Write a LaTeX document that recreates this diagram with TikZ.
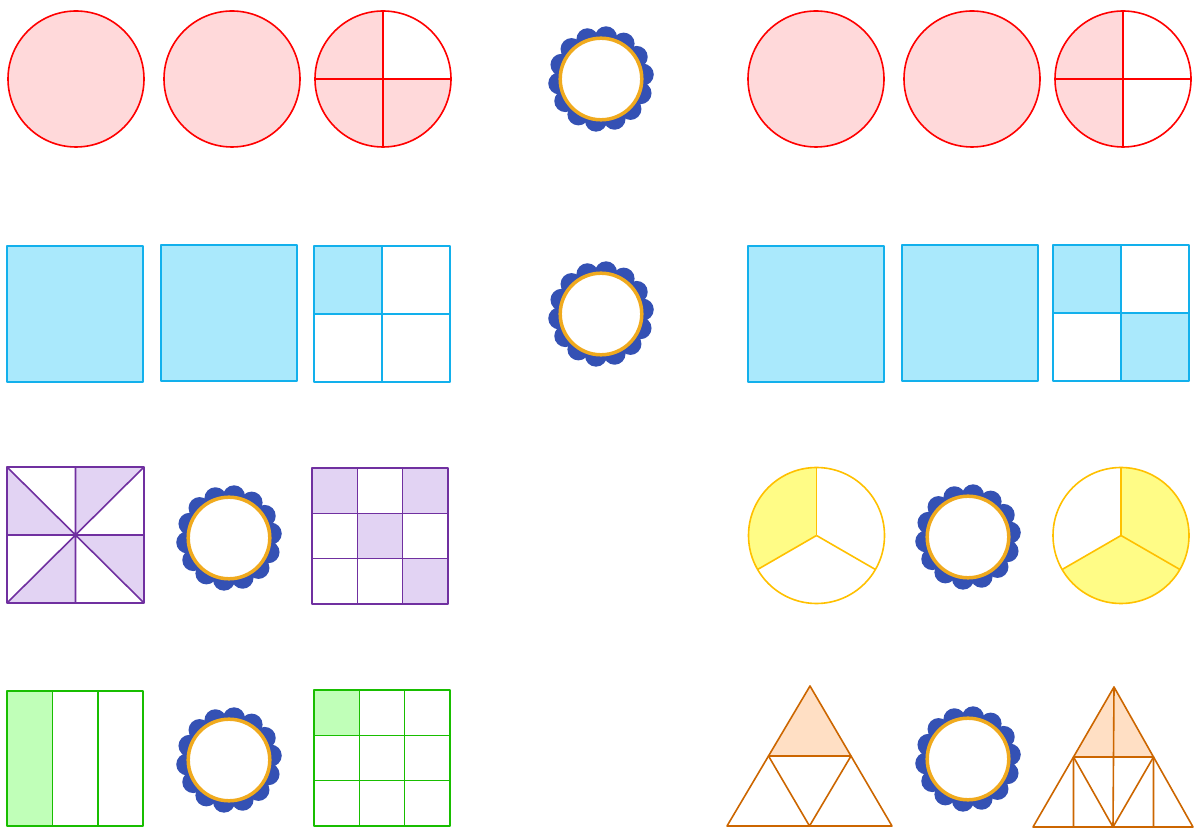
\documentclass[tikz,border=0pt]{standalone}
\usepackage{tikz}
\usetikzlibrary{calc}
\usepackage{xcolor}
\definecolor{redline}{RGB}{255,0,0}
\definecolor{pinkfill}{RGB}{255,217,218}
\definecolor{cyanline}{RGB}{18,176,236}
\definecolor{cyanfill}{RGB}{170,233,252}
\definecolor{plumline}{RGB}{112,48,160}
\definecolor{plumfill}{RGB}{226,211,243}
\definecolor{goldline}{RGB}{255,192,0}
\definecolor{goldfill}{RGB}{255,252,134}
\definecolor{leafline}{RGB}{24,190,0}
\definecolor{leaffill}{RGB}{192,255,184}
\definecolor{rustline}{RGB}{204,102,0}
\definecolor{rustfill}{RGB}{255,223,196}
\definecolor{rosetteblue}{RGB}{52,81,180}
\definecolor{rosettering}{RGB}{240,170,30}

\begin{document}
\begin{tikzpicture}[
    x=1pt, y=1pt, line join=round,
    redpart/.style={draw=redline, line width=1.6pt},
    cyanpart/.style={draw=cyanline, line width=1.6pt},
    plumpart/.style={draw=plumline, line width=1.6pt},
    goldpart/.style={draw=goldline, line width=1.6pt},
    leafpart/.style={draw=leafline, line width=1.6pt},
    rustpart/.style={draw=rustline, line width=1.6pt},
    rosette/.pic={
        \fill[rosetteblue] (0,0) circle (46);
        \foreach \k in {1,...,14}
            \fill[rosetteblue] ({\k*360/14+6}:42) circle (11);
        \draw[rosettering, line width=3.5pt, fill=white] (0,0) circle (40.8);
    }
]
\useasboundingbox (0,0) rectangle (1194,830);

% row 1: circles
\draw[redpart, fill=pinkfill] (76,751) circle (68);
\draw[redpart, fill=pinkfill] (232,751) circle (68);
\fill[pinkfill] (383,751) -- +(90:68) arc (90:360:68) -- cycle;
\draw[redpart] (383,751) circle (68);
\draw[redpart] (315,751) -- (451,751) (383,683) -- (383,819);

\pic at (601,751) {rosette};

\draw[redpart, fill=pinkfill] (816,751) circle (68);
\draw[redpart, fill=pinkfill] (972,751) circle (68);
\fill[pinkfill] (1123,751) -- +(90:68) arc (90:270:68) -- cycle;
\draw[redpart] (1123,751) circle (68);
\draw[redpart] (1055,751) -- (1191,751) (1123,683) -- (1123,819);

% row 2: squares
\draw[cyanpart, fill=cyanfill] (7,448) rectangle (143,584);
\draw[cyanpart, fill=cyanfill] (161,449) rectangle (297,585);
\fill[cyanfill] (314,516) rectangle (382,584);
\draw[cyanpart] (314,448) rectangle (450,584);
\draw[cyanpart] (382,448) -- (382,584) (314,516) -- (450,516);

\pic at (601,516) {rosette};

\draw[cyanpart, fill=cyanfill] (748,448) rectangle (884,584);
\draw[cyanpart, fill=cyanfill] (902,449) rectangle (1038,585);
\fill[cyanfill] (1053,517) rectangle (1121,585);
\fill[cyanfill] (1121,449) rectangle (1189,517);
\draw[cyanpart] (1053,449) rectangle (1189,585);
\draw[cyanpart] (1121,449) -- (1121,585) (1053,517) -- (1189,517);

% row 3
\fill[plumfill] (7,363) -- (7,295) -- (75.5,295) -- cycle;
\fill[plumfill] (75.5,363) -- (144,363) -- (75.5,295) -- cycle;
\fill[plumfill] (75.5,295) -- (144,295) -- (144,227) -- cycle;
\fill[plumfill] (75.5,295) -- (75.5,227) -- (7,227) -- cycle;
\draw[plumpart] (7,227) rectangle (144,363);
\draw[plumpart] (75.5,227) -- (75.5,363) (7,295) -- (144,295)
                (7,363) -- (144,227) (7,227) -- (144,363);

\pic at (229,292) {rosette};

\foreach \r/\c in {0/0, 0/2, 1/1, 2/2}
    \fill[plumfill] ({312+\c*45.33},{362-\r*45.33}) rectangle ++(45.33,-45.33);
\draw[plumpart] (312,226) rectangle (448,362);
\foreach \k in {1,2} {
    \draw[plumpart] ({312+\k*45.33},226) -- ++(0,136);
    \draw[plumpart] (312,{226+\k*45.33}) -- ++(136,0);
}

\fill[goldfill] (816.5,294.5) -- +(90:68) arc (90:210:68) -- cycle;
\draw[goldpart] (816.5,294.5) circle (68);
\foreach \a in {90,210,330}
    \draw[goldpart] (816.5,294.5) -- +(\a:68);

\pic at (968,293) {rosette};

\fill[goldfill] (1121,294.5) -- +(210:68) arc (210:450:68) -- cycle;
\draw[goldpart] (1121,294.5) circle (68);
\foreach \a in {90,210,330}
    \draw[goldpart] (1121,294.5) -- +(\a:68);

% row 4
\fill[leaffill] (7,4) rectangle (52.3,139);
\draw[leafpart] (7,4) rectangle (143,139);
\draw[leafpart] (52.3,4) -- (52.3,139) (97.7,4) -- (97.7,139);

\pic at (229,70) {rosette};

\fill[leaffill] (314,94.67) rectangle (359.33,140);
\draw[leafpart] (314,4) rectangle (450,140);
\foreach \k in {1,2} {
    \draw[leafpart] ({314+\k*45.33},4) -- ++(0,136);
    \draw[leafpart] (314,{4+\k*45.33}) -- ++(136,0);
}

\coordinate (ta) at (810,144);
\coordinate (tb) at (727,4);
\coordinate (tc) at (892,4);
\coordinate (tab) at ($(ta)!0.5!(tb)$);
\coordinate (tac) at ($(ta)!0.5!(tc)$);
\coordinate (tbc) at ($(tb)!0.5!(tc)$);
\fill[rustfill] (ta) -- (tab) -- (tac) -- cycle;
\draw[rustpart] (ta) -- (tb) -- (tc) -- cycle;
\draw[rustpart] (tab) -- (tac) -- (tbc) -- cycle;

\pic at (968,71) {rosette};

\coordinate (sa) at (1114,143);
\coordinate (sb) at (1033,3);
\coordinate (sc) at (1193,3);
\coordinate (sab) at ($(sa)!0.5!(sb)$);
\coordinate (sac) at ($(sa)!0.5!(sc)$);
\coordinate (sbc) at ($(sb)!0.5!(sc)$);
\fill[rustfill] (sa) -- (sab) -- (sac) -- cycle;
\draw[rustpart] (sa) -- (sb) -- (sc) -- cycle;
\draw[rustpart] (sab) -- (sac) -- (sbc) -- cycle;
\draw[rustpart] (sa) -- (sbc) (sab) -- (sab |- sb) (sac) -- (sac |- sc);
\end{tikzpicture}
\end{document}
